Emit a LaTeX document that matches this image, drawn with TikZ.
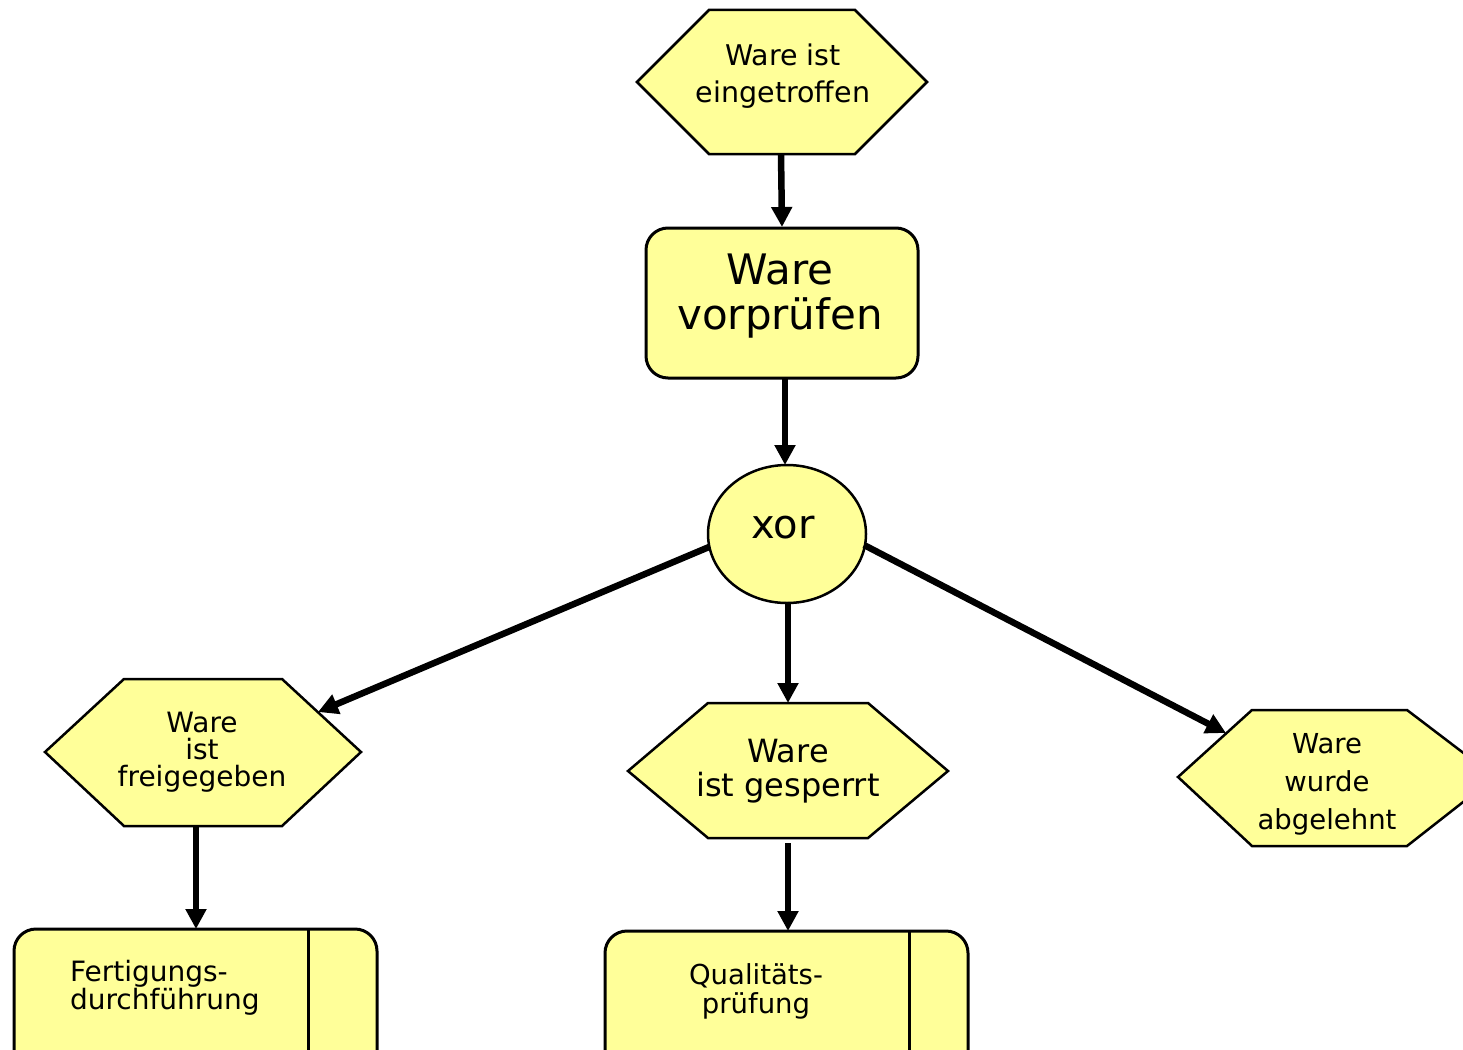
\documentclass[tikz,border=0pt]{standalone}
\usepackage{fontspec}
\setmainfont{DejaVu Sans}
\usetikzlibrary{arrows.meta,shapes.geometric}
\definecolor{evfill}{HTML}{FFFF99}
\tikzset{
  shapeline/.style={draw=black, line width=2.5pt, fill=evfill, line join=miter},
  boxline/.style={draw=black, line width=3pt, fill=evfill, rounded corners=22pt},
  sepline/.style={draw=black, line width=3pt},
  conn/.style={line width=6.5pt, -{Triangle[length=20pt,width=20pt]}},
  lbl/.style={inner sep=0pt, outer sep=0pt, align=center, text=black},
}
\begin{document}
\begin{tikzpicture}[x=1pt,y=-1pt]
\useasboundingbox (0,0) rectangle (1463,1049);
\fill[white] (0,0) rectangle (1463,1049);
\clip (0,0) rectangle (1463,1049);

% event: Ware ist eingetroffen
\draw[shapeline] (637,82)--(709,10)--(855,10)--(927,82)--(855,154)--(709,154)--cycle;
\node[lbl, font=\fontsize{28.5}{37}\selectfont] (e1) at (783,76.5) {Ware ist\\eingetroffen};

% function: Ware vorpruefen
\draw[boxline] (646,228) rectangle (918,378);
\node[lbl, font=\fontsize{42}{45}\selectfont] (f1) at (780,296) {Ware\\vorprüfen};

% xor connector
\node[shapeline, ellipse, minimum width=158pt, minimum height=138pt, inner sep=0pt] (xor) at (787,534) {};
\node[lbl, font=\fontsize{40}{44}\selectfont] (xorl) at (783,528) {xor};

% event: Ware ist freigegeben
\draw[shapeline] (45,752)--(124,679)--(282,679)--(361,752)--(282,826)--(124,826)--cycle;
\node[lbl, font=\fontsize{28}{27}\selectfont] (e2) at (202,752.5) {Ware\\ist\\freigegeben};

% event: Ware ist gesperrt
\draw[shapeline] (628,771)--(708,703)--(868,703)--(948,771)--(868,838)--(708,838)--cycle;
\node[lbl, font=\fontsize{32}{34}\selectfont] (e3) at (788,771) {Ware\\ist gesperrt};

% event: Ware wurde abgelehnt
\draw[shapeline] (1178,777)--(1252,710)--(1407,710)--(1495,777)--(1407,846)--(1252,846)--cycle;
\node[lbl, font=\fontsize{27.5}{38}\selectfont] (e4) at (1327,784.5) {Ware\\wurde\\abgelehnt};

% function: Fertigungsdurchfuehrung
\draw[boxline] (14,929) rectangle (377,1110);
\draw[sepline] (308,929) -- (308,1110);
\node[lbl, align=left, anchor=west, font=\fontsize{28}{28}\selectfont] (f2) at (70,987.5) {Fertigungs-\\durchführung};

% function: Qualitaetspruefung
\draw[boxline] (605,931) rectangle (968,1110);
\draw[sepline] (909,931) -- (909,1110);
\node[lbl, font=\fontsize{27.5}{29}\selectfont] (f3) at (756,991.5) {Qualitäts-\\prüfung};

% connector end points
\coordinate (e1s) at (781,154);
\coordinate (f1n) at (782,227);
\coordinate (f1s) at (785,378);
\coordinate (xorn) at (785,465);
\coordinate (xorw) at (709,547);
\coordinate (xors) at (788,603);
\coordinate (xore) at (864,545);
\coordinate (e2t) at (318,712);
\coordinate (e3n) at (788,703);
\coordinate (e4t) at (1226,733);
\coordinate (e2s) at (196,826);
\coordinate (f2n) at (196,929);
\coordinate (e3s) at (788,843);
\coordinate (f3n) at (788,931);

\draw[conn] (e1s) -- (f1n);
\draw[conn] (f1s) -- (xorn);
\draw[conn] (xorw) -- (e2t);
\draw[conn] (xors) -- (e3n);
\draw[conn] (xore) -- (e4t);
\draw[conn] (e2s) -- (f2n);
\draw[conn] (e3s) -- (f3n);
\end{tikzpicture}
\end{document}
